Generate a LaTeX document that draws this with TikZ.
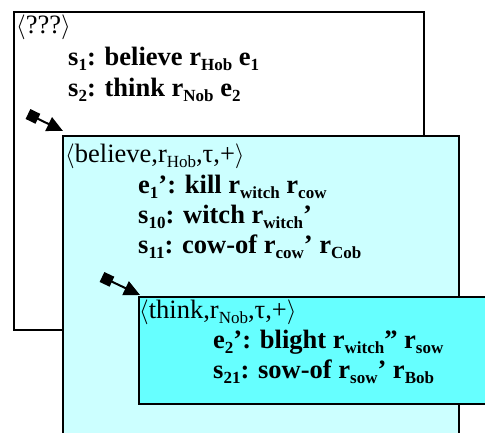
\documentclass[tikz,border=0pt]{standalone}
\usepackage{fontspec}
\setmainfont{Liberation Serif}
\usetikzlibrary{arrows.meta, positioning}
\definecolor{paleaqua}{HTML}{CCFFFF}
\definecolor{brightaqua}{HTML}{66FFFF}
\newcommand{\lo}[1]{\raisebox{-5pt}{\fontsize{17}{17}\selectfont #1}}
\tikzset{
  ctxbox/.style={draw=black, line width=2pt, rectangle, inner sep=0pt, anchor=north west},
  hdr/.style={anchor=base west, inner sep=0pt, font=\fontsize{26.5}{30}\selectfont},
  cond/.style={anchor=base west, inner sep=0pt, font=\fontsize{26.5}{30}\selectfont\bfseries},
  embed/.style={{Square[length=11pt,width=11pt]}-{Triangle[length=16pt,width=15pt]}, line width=2pt}
}

\begin{document}
\begin{tikzpicture}[x=1pt,y=-1pt]
\useasboundingbox (0,0) rectangle (485,432);
\clip (0,0) rectangle (485,432);
% Contexto exterior
\node[ctxbox, fill=white, line width=1.5pt, minimum width=410pt, minimum height=318pt] (outer) at (13,11) {};
\node[hdr] (outerhdr) at (16,33) {$\langle$???$\rangle$};
\node[cond] (s1) at (68,65) {s\lo{1}: believe r\lo{Hob} e\lo{1}};
\node[cond] (s2) at (68,96) {s\lo{2}: think r\lo{Nob} e\lo{2}};
% Contexto de believe
\node[ctxbox, fill=paleaqua, minimum width=396pt, minimum height=320pt] (believe) at (62,135) {};
\coordinate (grip1) at (28,114);
\draw[embed] (grip1) -- ([shift={(1,-4)}]believe.north west);
\node[hdr] (believehdr) at (65,162) {$\langle$believe,r\lo{Hob},τ,+$\rangle$};
\node[cond] (e1) at (138,193) {e\lo{1}’: kill r\lo{witch} r\lo{cow}};
\node[cond] (s10) at (138,223) {s\lo{10}: witch r\lo{witch}’};
\node[cond] (s11) at (138,253) {s\lo{11}: cow-of r\lo{cow}’ r\lo{Cob}};
% Contexto de think
\node[ctxbox, fill=brightaqua, minimum width=360pt, minimum height=107pt] (think) at (138,296) {};
\coordinate (grip2) at (102,277);
\draw[embed] (grip2) -- ([shift={(2,-1)}]think.north west);
\node[hdr] (thinkhdr) at (139,318) {$\langle$think,r\lo{Nob},τ,+$\rangle$};
\node[cond] (e2) at (213,348) {e\lo{2}’: blight r\lo{witch}” r\lo{sow}};
\node[cond] (s21) at (213,378) {s\lo{21}: sow-of r\lo{sow}’ r\lo{Bob}};
\end{tikzpicture}
\end{document}
